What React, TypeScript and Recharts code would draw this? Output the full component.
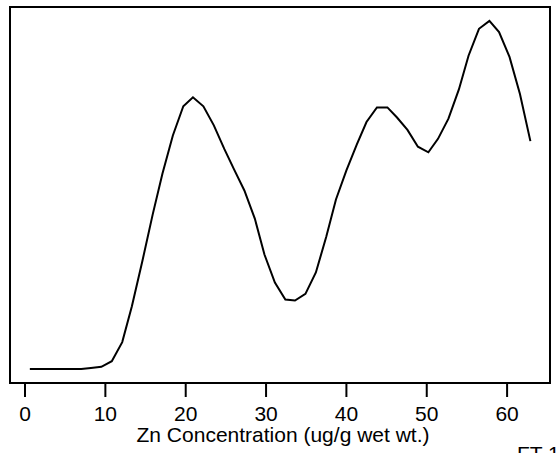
import React from 'react';
import { LineChart, Line, XAxis, YAxis, ReferenceArea, Label } from 'recharts';

// Zn concentration grid (ug/g wet wt.) and estimated density
const znValues = [
  0.6, 1.9, 3.2, 4.4, 5.7, 7.0, 8.2, 9.5, 10.8, 12.1,
  13.3, 14.6, 15.9, 17.1, 18.4, 19.7, 20.9, 22.2, 23.5, 24.8,
  26.0, 27.3, 28.6, 29.8, 31.1, 32.4, 33.6, 34.9, 36.2, 37.5,
  38.7, 40.0, 41.3, 42.5, 43.8, 45.1, 46.3, 47.6, 48.9, 50.2,
  51.4, 52.7, 54.0, 55.2, 56.5, 57.8, 59.0, 60.3, 61.6, 62.9,
];

const densityValues = [
  0, 0, 0, 0, 0, 0, 0.0001, 0.0002, 0.0007, 0.0024,
  0.0056, 0.0096, 0.0138, 0.0174, 0.0208, 0.0234, 0.0242, 0.0234, 0.0217, 0.0196,
  0.0178, 0.0159, 0.0134, 0.0102, 0.0077, 0.0062, 0.0061, 0.0067, 0.0086, 0.0118,
  0.0151, 0.0177, 0.0200, 0.0220, 0.0233, 0.0233, 0.0224, 0.0213, 0.0198, 0.0193,
  0.0205, 0.0223, 0.0249, 0.0279, 0.0303, 0.0310, 0.0300, 0.0278, 0.0245, 0.0203,
];

const xTicks = [0, 10, 20, 30, 40, 50, 60];

const xDomain: [number, number] = [-1.87, 65.34];
const yDomain: [number, number] = [-0.00124, 0.03224];

const data = znValues.map((zn, i) => ({ zn, density: densityValues[i] }));

const FONT = '"Liberation Sans", Arial, sans-serif';

export default function App() {
  return (
    <div
      style={{
        position: 'absolute',
        left: 0,
        top: 0,
        width: 556,
        height: 453,
        overflow: 'hidden',
        background: '#fff',
        fontFamily: FONT,
      }}
    >
      <LineChart
        width={556}
        height={453}
        data={data}
        margin={{ top: 7, right: 6, left: 10, bottom: 8 }}
      >
        <XAxis
          dataKey="zn"
          type="number"
          domain={xDomain}
          ticks={xTicks}
          allowDataOverflow
          axisLine={false}
          tickLine={{ stroke: '#000', strokeWidth: 2 }}
          tickSize={14}
          tickMargin={9}
          height={62}
          tick={{ fill: '#000', fontSize: 21, fontFamily: FONT }}
        >
          <Label
            value="Zn Concentration (ug/g wet wt.)"
            position="insideBottom"
            offset={3}
            dx={3}
            fill="#000"
            fontSize={21}
            fontFamily={FONT}
          />
        </XAxis>
        <YAxis hide type="number" domain={yDomain} allowDataOverflow />
        <ReferenceArea
          x1={xDomain[0]}
          x2={xDomain[1]}
          y1={yDomain[0]}
          y2={yDomain[1]}
          fill="none"
          stroke="#000"
          strokeWidth={2}
          ifOverflow="extendDomain"
        />
        <Line
          type="linear"
          dataKey="density"
          stroke="#000"
          strokeWidth={2}
          dot={false}
          isAnimationActive={false}
        />
      </LineChart>
      <div
        style={{
          position: 'absolute',
          left: 517,
          top: 442,
          fontSize: 21,
          color: '#000',
          whiteSpace: 'nowrap',
          fontFamily: FONT,
        }}
      >
        FT 1
      </div>
    </div>
  );
}
